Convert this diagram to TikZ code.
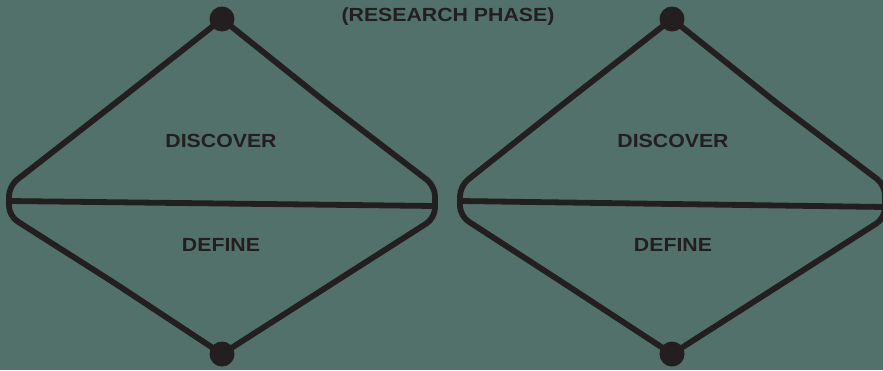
\documentclass[tikz,border=0pt]{standalone}
\usepackage{fontspec}
\newfontfamily\labelfont[FakeStretch=1.12]{Liberation Sans}
\definecolor{bg}{HTML}{52716A}
\definecolor{ink}{HTML}{231F20}
\begin{document}
\begin{tikzpicture}[x=1pt,y=-1pt,
  stroke/.style={draw=ink, line width=5.8pt, line cap=round, line join=round, rounded corners=10pt},
  dot/.style={circle, fill=ink, minimum size=25pt, inner sep=0pt},
  caption/.style={text=ink, font=\labelfont\bfseries\fontsize{19}{22}\selectfont, inner sep=0pt}]
\fill[bg] (0,0) rectangle (883,370);
\useasboundingbox (0,0) rectangle (883,370);

% ---- first diamond ----
\coordinate (t1) at (222,19);
\coordinate (b1) at (222,354);
\coordinate (l1a) at (9,186);
\coordinate (l1m) at (9,201);
\coordinate (l1b) at (9,216);
\coordinate (r1a) at (435,186);
\coordinate (r1m) at (435,206);
\coordinate (r1b) at (435,218);
\draw[stroke] (t1) -- (118,101) -- (l1a) -- (l1b) -- (116,284) -- (b1);
\draw[stroke] (t1) -- (328,104) -- (r1a) -- (r1b) -- (330,285) -- (b1);
\draw[stroke, rounded corners=0pt] (l1m) -- (r1m);
\node[dot] (d1t) at (t1) {};
\node[dot] (d1b) at (b1) {};
\node[caption] (disc1) at (221,141) {DISCOVER};
\node[caption] (def1) at (221,245) {DEFINE};

% ---- second diamond ----
\coordinate (t2) at (672,19);
\coordinate (b2) at (672,354);
\coordinate (l2a) at (460,186);
\coordinate (l2m) at (460,201);
\coordinate (l2b) at (460,216);
\coordinate (r2a) at (885,185);
\coordinate (r2m) at (885,207);
\coordinate (r2b) at (885,218);
\draw[stroke] (t2) -- (567,101) -- (l2a) -- (l2b) -- (565,284) -- (b2);
\draw[stroke] (t2) -- (778,104) -- (r2a) -- (r2b) -- (780,285) -- (b2);
\draw[stroke, rounded corners=0pt] (l2m) -- (r2m);
\node[dot] (d2t) at (t2) {};
\node[dot] (d2b) at (b2) {};
\node[caption] (disc2) at (673,141) {DISCOVER};
\node[caption] (def2) at (673,245) {DEFINE};

\node[caption] (phase) at (448,17) {(RESEARCH PHASE)};
\end{tikzpicture}
\end{document}
